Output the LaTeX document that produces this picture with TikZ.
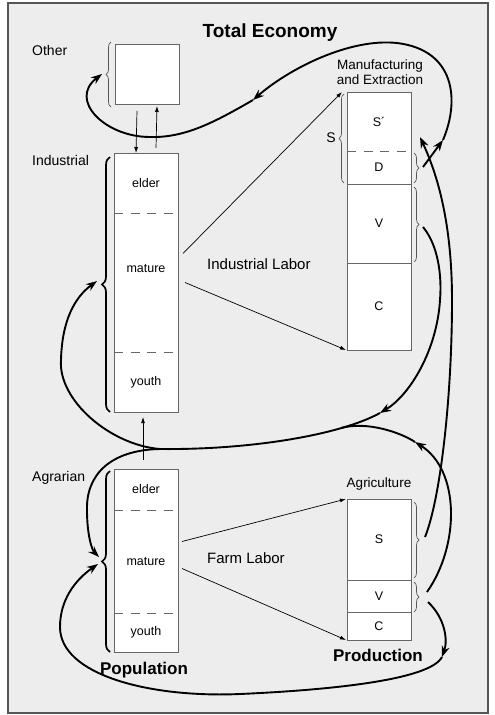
\documentclass[tikz,border=0pt]{standalone}
\usepackage{fontspec}
\setmainfont{Liberation Sans}
\usetikzlibrary{positioning,arrows.meta,decorations.pathreplacing}

\definecolor{bggray}{HTML}{EDEDED}
\definecolor{framegray}{HTML}{555555}
\definecolor{boxgray}{HTML}{666666}

\tikzset{
  sec/.style={fill=white, minimum width=64pt, inner sep=0pt, outer sep=0pt, font=\fontsize{12.5}{14}\selectfont},
  seclbl/.style={font=\fontsize{12.5}{14}\selectfont, inner sep=0pt},
  boxline/.style={draw=boxgray, line width=1pt},
  sepdash/.style={draw=boxgray, line width=1pt, dash pattern=on 9pt off 7.5pt},
  side/.style={font=\fontsize{14}{16}\selectfont, inner sep=0pt, anchor=base west},
  head/.style={font=\fontsize{13.5}{15}\selectfont, inner sep=0pt, align=center},
  big/.style={font=\bfseries\fontsize{17}{19}\selectfont, inner sep=0pt, anchor=base},
  labor/.style={font=\fontsize{15}{17}\selectfont, inner sep=0pt, anchor=base west},
  thinbrace/.style={decorate, decoration={brace, amplitude=5pt}, draw=framegray, line width=0.7pt},
  thickbrace/.style={decorate, decoration={brace, amplitude=8pt}, draw=black, line width=1.7pt},
  feed/.style={draw=black, line width=0.7pt, -{Latex[length=6pt,width=4pt]}},
  flow/.style={line width=1.9pt, -{Stealth[length=11pt,width=8pt,inset=3.5pt]}},
  flowline/.style={line width=1.9pt},
}

\begin{document}
\begin{tikzpicture}[x=1pt,y=-1pt]
  \useasboundingbox (0,0) rectangle (495,715);
  \draw[fill=bggray, draw=framegray, line width=1.6pt] (8,3) rectangle (488,713);

  \node[big, font=\bfseries\fontsize{19}{21}\selectfont] (title) at (270,37) {Total Economy};

  % population side
  \node[side] (lother) at (32,55) {Other};
  \node[side] (lind) at (32,165) {Industrial};
  \node[side] (lagr) at (32,481) {Agrarian};

  \node[sec, boxline, minimum height=60pt] (other) at (147,74) {};

  \node[sec, minimum height=60pt, anchor=north] (ielder) at (146,153) {elder};
  \node[sec, minimum height=139pt, below=0pt of ielder] (imature) {};
  \node[sec, minimum height=60pt, below=0pt of imature] (iyouth) {youth};
  \node[seclbl] (imlbl) at ([yshift=14pt]imature) {mature};
  \draw[boxline] (ielder.north west) rectangle (iyouth.south east);
  \draw[sepdash] (ielder.south west) -- (ielder.south east);
  \draw[sepdash] (iyouth.north west) -- (iyouth.north east);

  \node[sec, minimum height=41pt, anchor=north] (aelder) at (146,469) {elder};
  \node[sec, minimum height=103pt, below=0pt of aelder] (amature) {mature};
  \node[sec, minimum height=39pt, below=0pt of amature] (ayouth) {youth};
  \draw[boxline] (aelder.north west) rectangle (ayouth.south east);
  \draw[sepdash] (aelder.south west) -- (aelder.south east);
  \draw[sepdash] (ayouth.north west) -- (ayouth.north east);

  \node[big] (lpop) at (144,674) {Population};

  % production side
  \node[head, anchor=south] (lmanu) at (380,85) {Manufacturing\\and Extraction};
  \node[sec, minimum height=59pt, anchor=north] (msp) at (379,92) {S´};
  \node[sec, minimum height=33pt, below=0pt of msp] (md) {D};
  \node[sec, minimum height=79pt, below=0pt of md] (mv) {V};
  \node[sec, minimum height=87pt, below=0pt of mv] (mc) {C};
  \draw[boxline] (msp.north west) rectangle (mc.south east);
  \draw[sepdash] (msp.south west) -- (msp.south east);
  \draw[boxline] (md.south west) -- (md.south east);
  \draw[boxline] (mv.south west) -- (mv.south east);

  \node[head, anchor=base] (lagri) at (379,487) {Agriculture};
  \node[sec, minimum height=81pt, anchor=north] (as) at (379,499) {S};
  \node[sec, minimum height=32pt, below=0pt of as] (av) {V};
  \node[sec, minimum height=28pt, below=0pt of av] (ac) {C};
  \draw[boxline] (as.north west) rectangle (ac.south east);
  \draw[boxline] (as.south west) -- (as.south east);
  \draw[boxline] (av.south west) -- (av.south east);

  \node[big] (lprod) at (378,661) {Production};

  % braces
  \draw[thinbrace] ([xshift=-4pt,yshift=-3pt]other.south west) -- ([xshift=-4pt,yshift=2pt]other.north west);
  \draw[thickbrace] ([xshift=-4pt]iyouth.south west) -- ([xshift=-4pt,yshift=-4pt]ielder.north west);
  \draw[thickbrace] ([xshift=-4pt]ayouth.south west) -- ([xshift=-4pt,yshift=-2pt]aelder.north west);
  \draw[thinbrace] ([xshift=-3pt,yshift=1pt]md.south west) -- ([xshift=-3pt,yshift=-2pt]msp.north west);
  \node[side, anchor=center] (lS) at (331,138) {S};
  \draw[thinbrace] ([xshift=3pt,yshift=-2pt]md.north east) -- ([xshift=3pt,yshift=1pt]md.south east);
  \draw[thinbrace] ([xshift=3pt,yshift=-3pt]mv.north east) -- ([xshift=3pt,yshift=1pt]mv.south east);
  \draw[thinbrace] ([xshift=3pt,yshift=-3pt]as.north east) -- ([xshift=3pt,yshift=2pt]as.south east);
  \draw[thinbrace] ([xshift=3pt,yshift=-2pt]av.north east) -- ([xshift=3pt]av.south east);

  % people moving
  \draw[feed] ([xshift=-10pt,yshift=-7pt]other.south) -- ([xshift=-10pt]ielder.north);
  \draw[feed] ([xshift=10pt,yshift=5pt]ielder.north) -- ([xshift=10pt,yshift=-2pt]other.south);
  \draw[feed] ([xshift=-3pt,yshift=9pt]aelder.north) -- ([xshift=-3pt,yshift=-5pt]iyouth.south);

  % labor
  \node[labor] (lindlab) at (207,269) {Industrial Labor};
  \node[labor] (lfarmlab) at (207,563) {Farm Labor};
  \draw[feed] ([xshift=5pt,yshift=29pt]imature.east) -- ([xshift=-5pt]msp.north west);
  \draw[feed] ([xshift=7pt]imature.east) -- ([xshift=-1pt]mc.south west);
  \draw[feed] ([xshift=4pt,yshift=20pt]amature.east) -- ([xshift=-1pt]as.north west);
  \draw[feed] ([xshift=4pt,yshift=-7pt]amature.east) -- ([xshift=-1pt]ac.south west);

  % flows
  \coordinate (dtip) at (423,167);
  \coordinate (mvtip) at (423,227);
  \coordinate (astip) at (425,537);
  \coordinate (avtop) at (427,592);
  \coordinate (avbot) at (428,602);
  \coordinate (otip) at (102,74);
  \coordinate (mtip) at (420,137);
  \coordinate (itip) at (97,281);
  \coordinate (atipup) at (99,557);
  \coordinate (atipdn) at (98,564);
  \coordinate (loopin) at (443,140);
  \coordinate (loopmid) at (253,100);
  \coordinate (mvarr) at (380,413);
  \coordinate (merge) at (341,428);
  \coordinate (split) at (160,449);
  \coordinate (avarr) at (415,442);
  \coordinate (botarr) at (442,657);

  \draw[flow] (dtip) -- (loopin);
  \draw[flow] (loopin) .. controls (460,100) and (455,50) .. (397,43)
    .. controls (350,38) and (290,68) .. (loopmid);
  \draw[flow] (loopmid) .. controls (215,122) and (185,138) .. (150,137)
    .. controls (105,137) and (68,100) .. (otip);

  \draw[flow] (astip) .. controls (440,500) and (452,400) .. (452,300)
    .. controls (452,230) and (440,180) .. (mtip);

  \draw[flow] (mvtip) .. controls (438,245) and (442,275) .. (440,300)
    .. controls (437,350) and (410,395) .. (mvarr);
  \draw[flowline] (mvarr) .. controls (340,435) and (250,450) .. (split);
  \draw[flow] (avtop) .. controls (460,545) and (460,470) .. (avarr);
  \draw[flowline] (avarr) .. controls (400,432) and (366,421) .. (merge);

  \draw[flow] (split) .. controls (110,445) and (58,400) .. (61,360)
    .. controls (62,320) and (75,297) .. (itip);
  \draw[flow] (split) .. controls (110,450) and (86,475) .. (87,510)
    .. controls (87,535) and (92,550) .. (atipup);

  \draw[flow] (avbot) .. controls (445,618) and (448,640) .. (botarr);
  \draw[flow] (botarr) .. controls (430,680) and (330,690) .. (240,694)
    .. controls (150,698) and (60,675) .. (60,627)
    .. controls (60,600) and (75,580) .. (atipdn);
\end{tikzpicture}
\end{document}
